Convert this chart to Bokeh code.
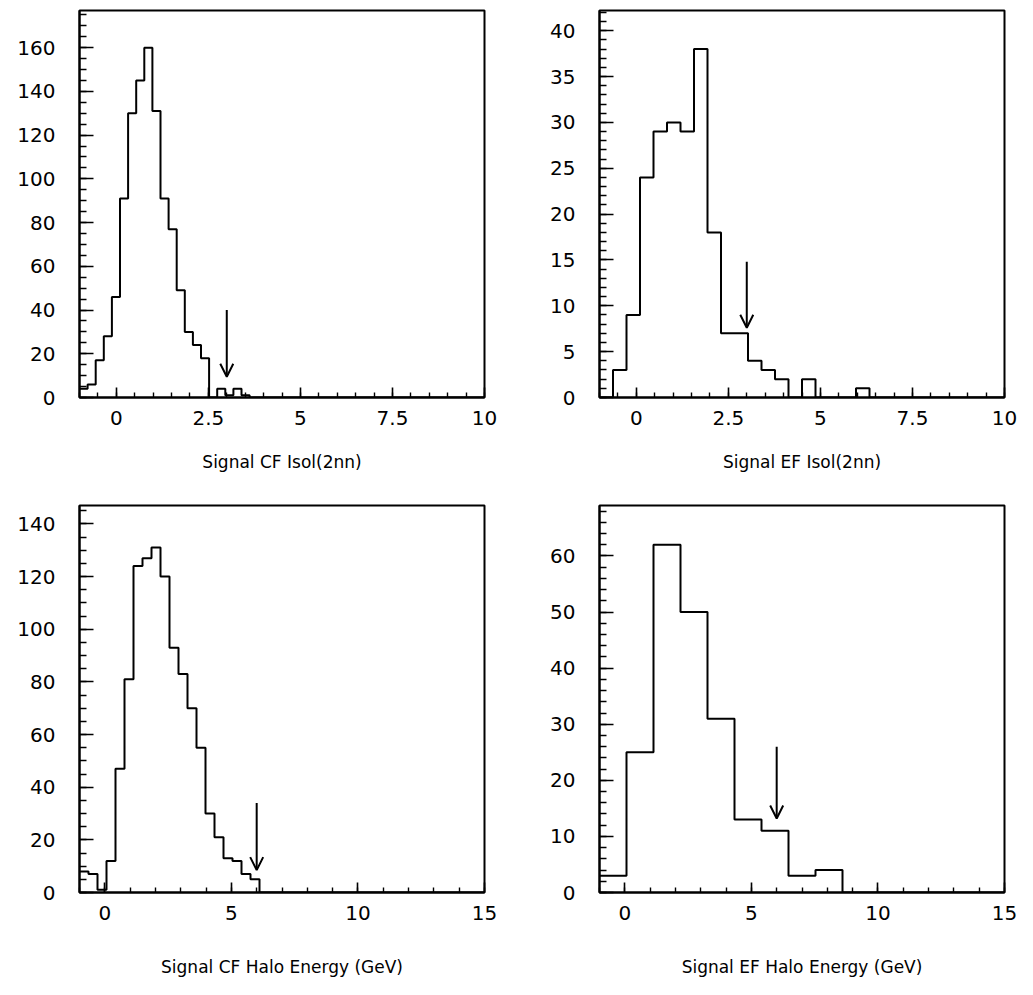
import numpy as np
from bokeh.plotting import figure
from bokeh.layouts import column, row
from bokeh.models import Range1d, FixedTicker, Arrow, OpenHead
from bokeh.embed import file_html
from bokeh.resources import INLINE

# ---------------- data ----------------
# Signal CF Isol(2nn): 50 bins from -1 to 10
cf_isol_range = (-1.0, 10.0)
cf_isol_counts = [4, 6, 17, 28, 46, 91, 130, 145, 160, 131,
                  91, 77, 49, 30, 24, 18, 0, 4, 1, 4,
                  1, 0, 0, 0, 0, 0, 0, 0, 0, 0,
                  0, 0, 0, 0, 0, 0, 0, 0, 0, 0,
                  0, 0, 0, 0, 0, 0, 0, 0, 0, 0]
# Signal EF Isol(2nn): 30 bins from -1 to 10
ef_isol_range = (-1.0, 10.0)
ef_isol_counts = [0, 3, 9, 24, 29, 30, 29, 38, 18, 7,
                  7, 4, 3, 2, 0, 2, 0, 0, 0, 1,
                  0, 0, 0, 0, 0, 0, 0, 0, 0, 0]
# Signal CF Halo Energy: 45 bins from -1 to 15
cf_halo_range = (-1.0, 15.0)
cf_halo_counts = [8, 7, 1, 12, 47, 81, 124, 127, 131, 120,
                  93, 83, 70, 55, 30, 21, 13, 12, 7, 5,
                  0, 0, 0, 0, 0, 0, 0, 0, 0, 0,
                  0, 0, 0, 0, 0, 0, 0, 0, 0, 0,
                  0, 0, 0, 0, 0]
# Signal EF Halo Energy: 15 bins from -1 to 15
ef_halo_range = (-1.0, 15.0)
ef_halo_counts = [3, 25, 62, 50, 31, 13, 11, 3, 4, 0,
                  0, 0, 0, 0, 0]

isol_cut = 3.0
halo_cut = 6.0

isol_x_ticks = [0, 2.5, 5, 7.5, 10]
isol_x_labels = ["0", "2.5", "5", "7.5", "10"]
halo_x_ticks = [0, 5, 10, 15]
halo_x_labels = ["0", "5", "10", "15"]
cf_isol_y_ticks = [0, 20, 40, 60, 80, 100, 120, 140, 160]
ef_isol_y_ticks = [0, 5, 10, 15, 20, 25, 30, 35, 40]
cf_halo_y_ticks = [0, 20, 40, 60, 80, 100, 120, 140]
ef_halo_y_ticks = [0, 10, 20, 30, 40, 50, 60]

titles = ["Signal CF Isol(2nn)", "Signal EF Isol(2nn)",
          "Signal CF Halo Energy (GeV)", "Signal EF Halo Energy (GeV)"]

FONT = "DejaVu Sans"


def make_panel(counts, xr, ymax, xticks, xlabels, xminor, yticks, yminor,
               title, cut, arrow_top, arrow_tip, width, height,
               left, right, top, bottom, title_standoff):
    p = figure(width=width, height=height, output_backend="svg",
               toolbar_location=None,
               x_range=Range1d(xr[0], xr[1]), y_range=Range1d(0, ymax),
               min_border_left=left, min_border_right=right,
               min_border_top=top, min_border_bottom=bottom)
    p.background_fill_color = "white"
    p.border_fill_color = "white"
    p.outline_line_color = "black"
    p.outline_line_width = 2
    p.grid.visible = False

    edges = np.linspace(xr[0], xr[1], len(counts) + 1)
    ys = list(counts) + [counts[-1]]
    p.step(edges, ys, mode="after", line_color="black", line_width=2)

    p.add_layout(Arrow(end=OpenHead(size=13, line_width=2, line_color="black"),
                       x_start=cut, y_start=arrow_top, x_end=cut, y_end=arrow_tip,
                       line_width=2, line_color="black"))

    xminor_ticks = list(np.arange(xr[0], xr[1] + 1e-9, xminor))
    yminor_ticks = list(np.arange(0, ymax + 1e-9, yminor))
    p.xaxis.ticker = FixedTicker(ticks=xticks, minor_ticks=xminor_ticks)
    p.yaxis.ticker = FixedTicker(ticks=yticks, minor_ticks=yminor_ticks)
    p.xaxis.major_label_overrides = {t: l for t, l in zip(xticks, xlabels)}
    p.yaxis.major_label_overrides = {t: str(t) for t in yticks}

    for ax in (p.xaxis[0], p.yaxis[0]):
        ax.axis_line_color = "black"
        ax.axis_line_width = 2
        ax.major_tick_line_color = "black"
        ax.minor_tick_line_color = "black"
        ax.major_tick_line_width = 1.6
        ax.minor_tick_line_width = 1.4
        ax.major_tick_out = 0
        ax.minor_tick_out = 0
        ax.major_label_text_font = FONT
        ax.major_label_text_font_size = "20px"
        ax.major_label_text_color = "black"
    p.xaxis.major_tick_in = 10
    p.xaxis.minor_tick_in = 5
    p.yaxis.major_tick_in = 14
    p.yaxis.minor_tick_in = 7
    p.yaxis.major_label_standoff = 24
    p.xaxis.major_label_standoff = 13

    p.xaxis.axis_label = title
    p.xaxis.axis_label_text_font = FONT
    p.xaxis.axis_label_text_font_size = "17px"
    p.xaxis.axis_label_text_font_style = "normal"
    p.xaxis.axis_label_text_color = "black"
    p.xaxis.axis_label_standoff = title_standoff
    return p


p1 = make_panel(cf_isol_counts, cf_isol_range, 177, isol_x_ticks, isol_x_labels, 0.5,
                cf_isol_y_ticks, 5, titles[0], isol_cut, 40, 9.5,
                528, 495, 79, 44, 10, 98, 24)
p2 = make_panel(ef_isol_counts, ef_isol_range, 42.2, isol_x_ticks, isol_x_labels, 0.5,
                ef_isol_y_ticks, 1, titles[1], isol_cut, 14.8, 7.6,
                494, 495, 71, 18, 10, 98, 24)
p3 = make_panel(cf_halo_counts, cf_halo_range, 147, halo_x_ticks, halo_x_labels, 1,
                cf_halo_y_ticks, 5, titles[2], halo_cut, 34, 8.5,
                528, 490, 79, 44, 10, 93, 34)
p4 = make_panel(ef_halo_counts, ef_halo_range, 69, halo_x_ticks, halo_x_labels, 1,
                ef_halo_y_ticks, 2, titles[3], halo_cut, 26, 13.2,
                494, 490, 71, 18, 10, 93, 34)

layout = column(row(p1, p2), row(p3, p4))
open("out.html", "w").write(file_html(layout, INLINE))
